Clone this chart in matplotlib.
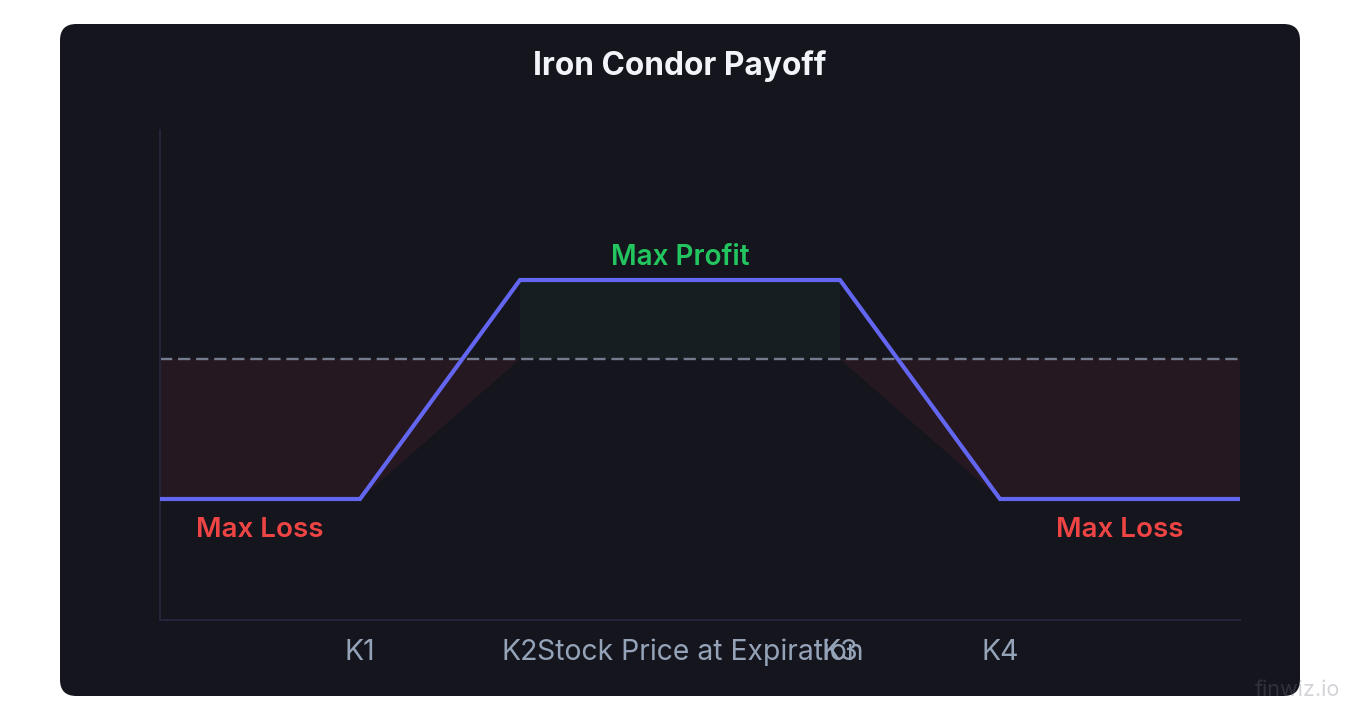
import matplotlib
matplotlib.use("Agg")
import matplotlib.pyplot as plt
from matplotlib.patches import FancyBboxPatch

plt.rcParams['font.family'] = ['Inter', 'DejaVu Sans']
plt.rcParams['lines.scale_dashes'] = False

# ---- data ----
strike_labels = ["K1", "K2", "K3", "K4"]
strikes = [20, 36, 68, 84]
price = [0, 20, 36, 68, 84, 108]
payoff = [-140, -140, 79, 79, -140, -140]
max_profit = 79
max_loss = -140
x_min, x_max = 0, 108
y_min, y_max = -261, 229

W, H = 1360, 720
fig = plt.figure(figsize=(W / 100, H / 100), dpi=100, facecolor="white")

BG = "#15151e"
card = FancyBboxPatch((60 / W, 24 / H), 1240 / W, 672 / H,
                      boxstyle="round,pad=0,rounding_size=0.012",
                      transform=fig.transFigure, facecolor=BG, edgecolor="none",
                      mutation_aspect=W / H, zorder=-5)
fig.patches.append(card)

ax = fig.add_axes([160 / W, 100 / H, 1080 / W, 490 / H])
ax.set_zorder(2)
ax.set_facecolor("none")
ax.set_xlim(x_min, x_max)
ax.set_ylim(y_min, y_max)

# loss regions
k1, k2, k3, k4 = strikes
ax.fill([x_min, x_min, k1, k2], [0, max_loss, max_loss, 0],
        color="#ef4444", alpha=0.08, lw=0, zorder=1)
ax.fill([k3, k4, x_max, x_max], [0, max_loss, max_loss, 0],
        color="#ef4444", alpha=0.08, lw=0, zorder=1)
# profit region
ax.fill([k2, k2, k3, k3], [0, max_profit, max_profit, 0],
        color="#22c55e", alpha=0.06, lw=0, zorder=1)

# zero line
ax.plot([x_min, x_max], [0, 0], color="#737b8c", lw=1.7,
        dashes=(8.8, 4.2), zorder=2)
# payoff
ax.plot(price, payoff, color="#6366f1", lw=3, solid_joinstyle="miter",
        solid_capstyle="butt", zorder=3)

for s in ["top", "right"]:
    ax.spines[s].set_visible(False)
for s in ["left", "bottom"]:
    ax.spines[s].set_color("#24243a")
    ax.spines[s].set_linewidth(1.5)

ax.set_yticks([])
ax.set_xticks(strikes)
ax.set_xticklabels(strike_labels)
ax.tick_params(axis="x", length=0, pad=14, labelsize=20.5, labelcolor="#94a3b8")
ax.set_xlabel("Stock Price at Expiration", fontsize=20.4, color="#94a3b8",
              va="center")
ax.xaxis.set_label_coords(540 / 1080, -32 / 490)

ax.text((k2 + k3) / 2, max_profit + 9, "Max Profit", color="#22c55e",
        fontsize=20.1, fontweight="semibold", ha="center", va="bottom")
ax.text(k1 - 10, max_loss - 18, "Max Loss", color="#ef4444",
        fontsize=20, fontweight="semibold", ha="center", va="top")
ax.text(k4 + 12, max_loss - 18, "Max Loss", color="#ef4444",
        fontsize=20, fontweight="semibold", ha="center", va="top")

fig.text(680 / W, 1 - 66.5 / H, "Iron Condor Payoff", color="#f1f5f9",
         fontsize=22.8, fontweight="bold", ha="center", va="center")

fig.text(1297 / W, 1 - 690 / H, "finwiz.io", color="#6b7280", alpha=0.3,
         fontsize=15.6, ha="center", va="center")

fig.savefig("out.png", dpi=100, facecolor="white")
